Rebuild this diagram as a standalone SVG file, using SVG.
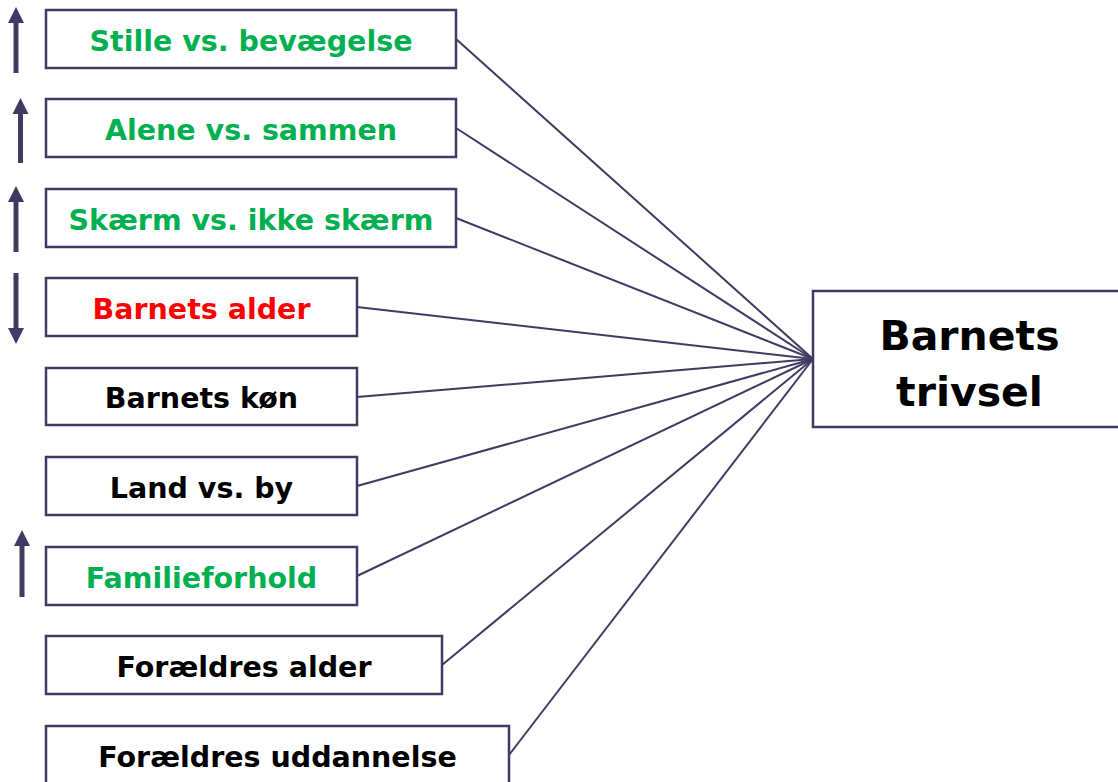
<svg xmlns="http://www.w3.org/2000/svg" width="1118" height="782" viewBox="0 0 1118 782">
<style>
.box{fill:#fff;stroke:#3F3B63;stroke-width:2.5}
.lbl{font-family:"DejaVu Sans",Verdana,sans-serif;font-weight:bold;font-size:28.5px;text-anchor:middle}
.big{font-size:41px}
.g{fill:#00B050}.r{fill:#FF0000}.k{fill:#000}
.con line{stroke:#3F3B63;stroke-width:2}
.arr{fill:#3F3B63}
</style>
<rect width="1118" height="782" fill="#fff"/>
<g id="connectors" class="con">
<line x1="456" y1="39" x2="813" y2="359"/>
<line x1="456" y1="128" x2="813" y2="359"/>
<line x1="456" y1="218" x2="813" y2="359"/>
<line x1="357" y1="307" x2="813" y2="359"/>
<line x1="357" y1="397" x2="813" y2="359"/>
<line x1="357" y1="486" x2="813" y2="359"/>
<line x1="357" y1="576" x2="813" y2="359"/>
<line x1="442" y1="665" x2="813" y2="359"/>
<line x1="509" y1="755" x2="813" y2="359"/>
</g>
<g id="arrows" class="arr">
<polygon points="13.5,73 18.5,73 18.5,23 24,23 16,7 8,23 13.5,23"/>
<polygon points="18,163 23,163 23,114 28.5,114 20.5,98 12.5,114 18,114"/>
<polygon points="13.5,252 18.5,252 18.5,202 24,202 16,186 8,202 13.5,202"/>
<polygon points="13.5,273 18.5,273 18.5,328 24,328 16,344 8,328 13.5,328"/>
<polygon points="19.5,597 24.5,597 24.5,546 30,546 22,530 14,546 19.5,546"/>
</g>
<g id="n1"><rect class="box" x="46" y="10" width="410" height="58"/><text class="lbl g" x="251" y="51">Stille vs. bevægelse</text></g>
<g id="n2"><rect class="box" x="46" y="99" width="410" height="58"/><text class="lbl g" x="251" y="140">Alene vs. sammen</text></g>
<g id="n3"><rect class="box" x="46" y="189" width="410" height="58"/><text class="lbl g" x="251" y="230">Skærm vs. ikke skærm</text></g>
<g id="n4"><rect class="box" x="46" y="278" width="311" height="58"/><text class="lbl r" x="201.5" y="319">Barnets alder</text></g>
<g id="n5"><rect class="box" x="46" y="368" width="311" height="57"/><text class="lbl k" x="201.5" y="408">Barnets køn</text></g>
<g id="n6"><rect class="box" x="46" y="457" width="311" height="58"/><text class="lbl k" x="201.5" y="498">Land vs. by</text></g>
<g id="n7"><rect class="box" x="46" y="547" width="311" height="58"/><text class="lbl g" x="201.5" y="588">Familieforhold</text></g>
<g id="n8"><rect class="box" x="46" y="636" width="396" height="58"/><text class="lbl k" x="244" y="677">Forældres alder</text></g>
<g id="n9"><rect class="box" x="46" y="726" width="463" height="60"/><text class="lbl k" x="277.5" y="767">Forældres uddannelse</text></g>
<g id="target"><rect class="box" x="813" y="291" width="313" height="136"/><text class="lbl big k" x="969.5" y="350">Barnets</text><text class="lbl big k" x="969.5" y="406">trivsel</text></g>
</svg>
